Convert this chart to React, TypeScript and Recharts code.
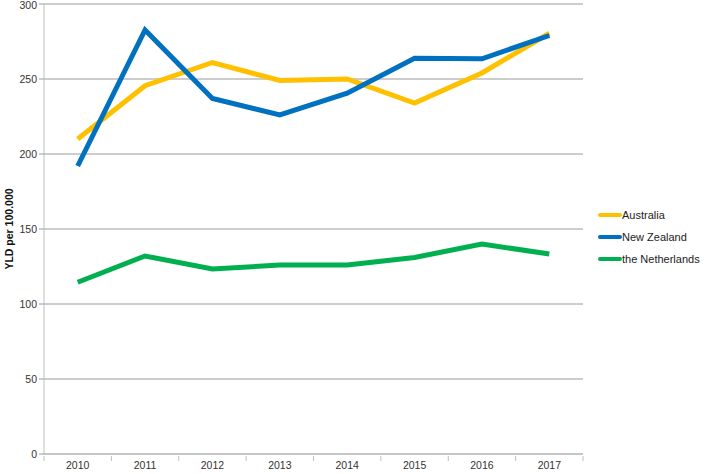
import React from "react"
import { LineChart, Line, XAxis, YAxis, CartesianGrid, Label } from "recharts"

const years = ["2010", "2011", "2012", "2013", "2014", "2015", "2016", "2017"]
const australia = [210, 245.5, 261, 249, 250, 234, 254, 280.5]
const newZealand = [192, 282.7, 237, 226, 240.5, 263.8, 263.5, 279]
const netherlands = [114.5, 132, 123.3, 126, 126, 131, 140, 133.3]
const yTicks = [0, 50, 100, 150, 200, 250, 300]

const series = [
  { key: "australia", name: "Australia", color: "#FFC000" },
  { key: "newZealand", name: "New Zealand", color: "#0070C0" },
  { key: "netherlands", name: "the Netherlands", color: "#00B050" },
]

const data = years.map((y, i) => ({
  year: y,
  australia: australia[i],
  newZealand: newZealand[i],
  netherlands: netherlands[i],
}))

const FONT = "'Liberation Sans', Arial, sans-serif"
const PLOT_LEFT = 44
const PLOT_RIGHT = 583
const BAND = (PLOT_RIGHT - PLOT_LEFT) / years.length

// Excel style: label at the band centre, tick marks at the band edges
const YearTick = (props: any) => {
  const { x, y, payload, index } = props
  const last = index === years.length - 1
  return (
    <g>
      <line x1={x - BAND / 2} y1={y} x2={x - BAND / 2} y2={y + 5} stroke="#bfbfbf" />
      {last && <line x1={x + BAND / 2} y1={y} x2={x + BAND / 2} y2={y + 5} stroke="#bfbfbf" />}
      <text x={x} y={y + 13} textAnchor="middle" fontSize={10.5} fill="#333" fontFamily={FONT}>
        {payload.value}
      </text>
    </g>
  )
}

const LegendBox = () => (
  <div style={{ position: "absolute", left: 598, top: 204, fontFamily: FONT, fontSize: 11, color: "#222" }}>
    {series.map((s) => (
      <div key={s.key} style={{ display: "flex", alignItems: "center", height: 22 }}>
        <span style={{ display: "inline-block", width: 24, height: 4, borderRadius: 2, background: s.color }} />
        <span>{s.name}</span>
      </div>
    ))}
  </div>
)

export default function App() {
  return (
    <div style={{ position: "absolute", left: 0, top: 0, width: 709, height: 474, background: "#fff" }}>
      <LineChart
        width={709}
        height={474}
        data={data}
        margin={{ top: 4, right: 709 - PLOT_RIGHT, bottom: 0, left: 0 }}
      >
        <CartesianGrid vertical={false} stroke="#9a9a9a" />
        <XAxis
          dataKey="year"
          height={20}
          stroke="#bfbfbf"
          tickLine={false}
          tickSize={0}
          tick={<YearTick />}
          interval={0}
          padding={{ left: BAND / 2, right: BAND / 2 }}
        />
        <YAxis
          width={PLOT_LEFT}
          domain={[0, 300]}
          ticks={yTicks}
          stroke="#bfbfbf"
          tickSize={5}
          tickLine={{ stroke: "#9a9a9a" }}
          tick={{ fontSize: 10.5, fill: "#333", fontFamily: FONT }}
        >
          <Label
            value="YLD per 100.000"
            angle={-90}
            position="insideLeft"
            offset={9}
            style={{ textAnchor: "middle", fontWeight: "bold", fontSize: 10.5, fill: "#111", fontFamily: FONT }}
          />
        </YAxis>
        {series.map((s) => (
          <Line
            key={s.key}
            type="linear"
            dataKey={s.key}
            name={s.name}
            stroke={s.color}
            strokeWidth={5}
            dot={false}
            activeDot={false}
            isAnimationActive={false}
          />
        ))}
      </LineChart>
      <LegendBox />
    </div>
  )
}
